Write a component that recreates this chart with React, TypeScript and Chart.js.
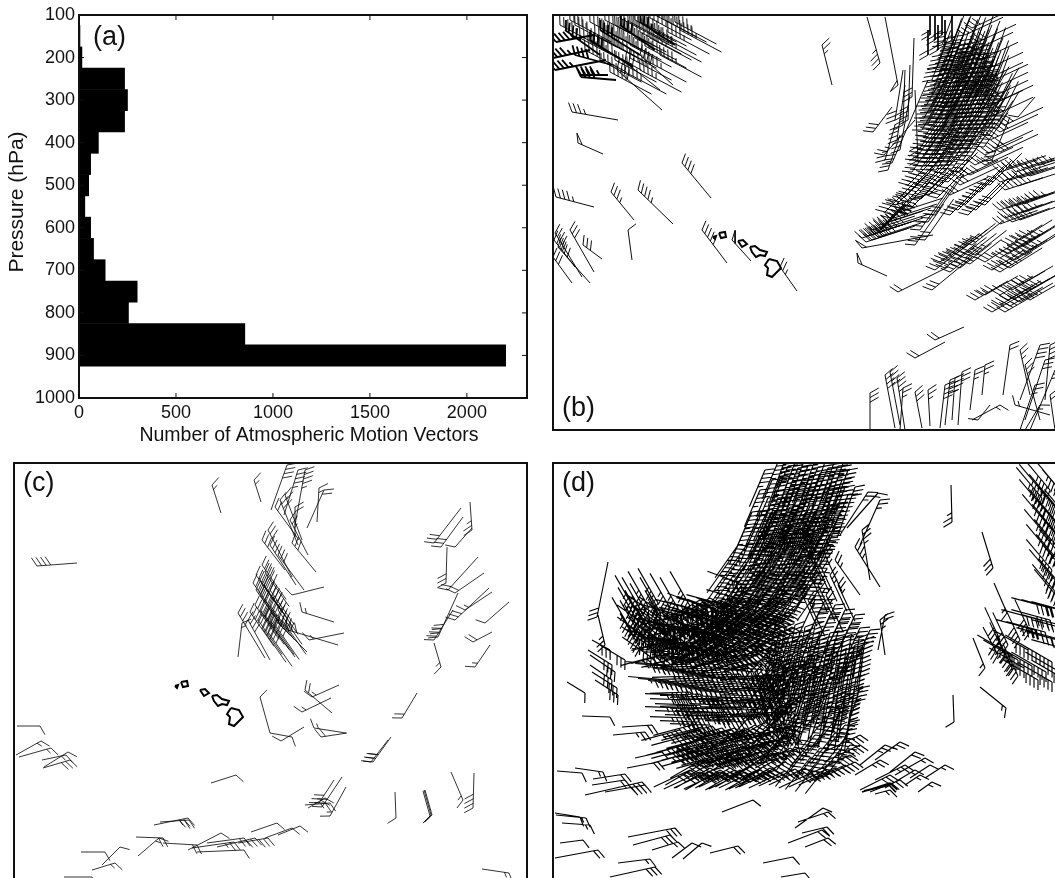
import React, { useEffect, useRef } from "react";
import { Chart, registerables } from "chart.js";
Chart.register(...registerables);

// ---------- panel (a) ----------
const pressureLevels = [150, 200, 250, 300, 350, 400, 450, 500, 550, 600, 650, 700, 750, 800, 850, 900];
const vectorCounts = [5, 15, 235, 250, 235, 100, 60, 50, 30, 60, 75, 135, 300, 255, 855, 2200];
const countTicks = [0, 500, 1000, 1500, 2000];
const axisTitleX = "Number of Atmospheric Motion Vectors";
const axisTitleY = "Pressure (hPa)";

// ---------- island outlines (map grid of panel b) ----------
const bigIsland = [769,259,777,261,781,268,777,272,772,277,767,275,768,268,765,265,769,259];
const maui = [750,247,755,246,760,250,767,252,765,256,760,255,756,257,752,252,750,247];
const oahu = [738,241,743,240,747,244,742,247,738,241];
const kauai = [719,233,725,232,726,237,721,238,719,233];
const niihau = [713,237,716,236,715,239,713,237];
const allIslands = [bigIsland, maui, oahu, kauai, niihau];

// ---------- barbs: head x, head y, tail x, tail y, speed ----------
const bSparse = [
[572,112,618,120,35],[578,143,603,154,50],[682,163,711,198,40],[611,192,634,220,35],[638,190,673,224,45],[628,230,632,260,10],
[702,230,727,263,45],[732,240,751,261,50],[780,267,797,291,25],[556,197,594,207,45],[570,230,594,272,30],[583,245,602,259,30],
[558,247,590,283,40],[555,233,582,277,40],[553,257,572,283,30],[554,240,575,267,40],[617,70,662,110,40],[640,55,673,85,40],
[625,62,660,90,30],[822,45,832,85,25],[880,63,867,17,35],[898,85,885,17,50],[873,132,892,107,30],[912,97,914,38,30],[918,160,915,90,40],
[892,163,928,80,30],[884,155,915,120,25],[858,263,887,276,50],[932,290,972,257,30],[898,292,948,267,20],[935,340,964,327,20],
[915,358,945,342,20],[862,248,933,235,50],[1018,117,1035,97,10],[992,160,1010,117,30],[870,393,870,430,30],[885,375,895,428,40],
[890,372,900,425,40],[897,378,905,430,35],[903,388,900,430,25],[915,392,922,428,30],[928,390,930,426,25],[945,385,940,428,40],
[950,380,945,425,40],[955,378,952,420,35],[962,372,958,425,30],[975,370,970,410,25],[985,365,982,395,25],[1010,345,1003,395,20],
[1040,345,1020,400,40],[1020,350,1030,395,25],[1045,360,1025,420,30],[1050,345,1045,400,40],[1025,365,1040,420,30],[1055,370,1030,430,30],
[1035,385,1020,430,25],[1050,395,1055,430,20],[1015,405,1050,415,15],[1040,405,1025,430,15],[978,420,990,405,10],[1000,405,972,420,15],
[903,125,905,70,40],[908,120,910,65,40],[897,140,905,85,40],[895,120,903,70,30],[900,150,910,95,35],[888,170,900,135,25],[885,160,895,125,25]
];
const bHeavy = [
[556,42,594,35,45],[553,58,590,50,45],[555,70,606,60,45],[581,75,608,75,45],[581,77,616,80,40],[575,55,612,65,40],[590,40,633,67,40],[565,30,600,55,45],[905,205,880,230,30],
[600,30,640,55,40],[620,25,655,50,40],[640,22,675,45,35]
];
const cSparse = [
[37,566,77,563,40],[212,485,221,513,15],[254,480,261,502,15],[287,465,271,510,40],[298,470,284,515,45],[305,470,295,525,45],
[324,490,307,528,20],[319,488,317,522,15],[295,507,295,537,20],[275,507,299,540,20],[268,530,292,577,30],[292,543,316,572,30],
[262,540,285,570,30],[292,595,324,587,10],[302,612,334,622,15],[309,640,344,633,15],[288,630,338,645,30],[278,623,307,652,40],
[265,617,295,657,40],[248,620,270,660,40],[238,613,265,658,35],[242,623,238,657,15],[434,543,461,508,30],[441,547,463,517,30],
[455,547,472,528,10],[472,530,470,502,25],[448,590,478,557,20],[455,593,484,573,20],[446,583,447,547,30],[465,610,492,592,15],
[455,620,489,588,30],[438,637,458,593,40],[434,640,453,610,40],[485,623,509,602,10],[473,642,492,632,20],[475,667,490,645,15],
[441,667,434,643,15],[312,697,339,685,15],[302,712,331,698,15],[305,690,332,713,20],[260,697,270,733,10],[281,741,304,727,10],
[292,737,270,733,10],[321,737,347,733,20],[314,728,346,733,15],[402,718,417,693,20],[373,762,391,737,30],[371,762,388,740,30],
[396,818,395,792,10],[431,815,424,790,10],[432,815,425,790,10],[430,816,423,791,10],[463,800,451,772,15],[473,808,474,773,40],
[322,807,342,777,30],[319,803,334,780,30],[330,816,346,787,15],[40,726,17,726,10],[41,741,16,755,15],[51,748,19,757,15],
[68,752,44,767,10],[66,755,42,760,15],[70,760,43,768,30],[236,775,211,783,10],[188,818,154,825,30],[189,820,160,822,25],
[163,838,136,837,20],[159,838,138,856,15],[197,845,163,843,20],[221,833,188,850,10],[244,850,197,852,10],[244,838,207,843,20],
[255,838,217,847,30],[268,838,238,843,30],[277,823,251,832,10],[292,828,265,838,10],[300,826,278,835,10],[234,842,192,848,25],
[105,852,81,852,10],[120,847,102,865,10],[115,863,92,870,15],[92,877,64,877,10],[509,873,482,869,15],[330,803,305,805,25],[325,798,308,808,20],
[280,500,298,545,25],[285,495,302,540,25],[290,520,308,555,25],[270,545,296,585,30],[278,555,304,590,30]
];
const dSparse = [
[597,617,608,562,30],[585,693,567,682,10],[610,717,582,716,10],[645,732,613,735,25],[652,725,622,727,20],[582,773,557,771,10],
[603,772,575,768,15],[625,774,593,779,20],[642,782,585,795,40],[645,785,605,792,40],[662,752,635,758,10],[658,762,627,768,20],
[753,800,722,812,10],[580,817,555,813,10],[586,818,556,815,15],[590,825,562,823,15],[583,840,560,843,10],[598,850,555,858,20],
[675,828,628,837,30],[670,835,633,845,30],[678,842,652,850,15],[692,843,672,858,10],[702,843,683,859,10],[738,846,710,853,20],
[793,857,763,863,10],[805,873,781,877,10],[650,859,618,863,15],[655,867,610,877,30],[823,808,795,828,10],[828,812,798,822,15],
[822,830,788,843,20],[828,838,805,847,20],[827,827,802,833,20],[952,522,951,485,25],[993,568,982,532,30],[1007,613,994,583,15],
[985,668,973,638,15],[998,655,983,627,30],[1006,708,980,687,15],[954,722,953,695,10],[878,493,847,528,15],[855,487,837,538,30],
[868,492,840,535,25],[880,500,860,545,25],[855,547,880,587,35],[862,530,870,580,35],[835,560,860,595,25],[880,620,885,655,25],
[885,615,878,650,20],[612,665,588,650,30],[615,672,590,655,30],[612,680,590,665,30],[617,688,592,672,30],[610,650,592,640,30],
[618,695,595,680,30],[625,660,600,645,30],[605,645,598,615,25],[625,780,592,785,20],
[880,760,855,775,25],[890,775,860,790,30],[900,780,870,792,30],[905,765,875,780,25],[915,770,885,788,15],[890,790,875,794,15],
[900,742,875,760,25],[885,745,860,765,25],[915,752,890,772,20],[925,758,895,775,15],[920,775,905,785,15],[930,765,910,778,10],[945,765,925,778,15],[932,782,918,792,15]
];
const dHeavy = [[890,783,862,792,10],[889,785,864,791,10]];

// ---------- dense flows: lists of barb heads ----------
const dColA = [785,460,795,462,805,458,815,460,825,462,835,460,845,458,790,475,800,472,810,476,820,473,830,475,840,472,848,470,780,478,785,490,795,488,805,491,815,487,825,490,835,488,845,487,775,492,782,468,792,482,802,481,812,483,822,481,832,482,842,480];
const dColB = [770,505,780,503,790,507,800,503,810,506,820,503,830,506,838,503,765,520,775,518,785,522,795,519,805,522,815,518,825,521,835,519,760,535,770,533,780,537,790,534,800,537,810,533,820,536,830,534,775,511,785,513,795,512,805,513,815,511,825,512,770,527,780,528,790,527,800,529,810,527,820,528];
const dColC = [755,550,765,548,775,552,785,549,795,552,805,548,815,551,825,549,750,565,760,563,770,567,780,564,790,567,800,563,810,566,820,564,745,580,755,578,765,582,775,579,785,582,795,578,805,581,815,579,760,556,770,558,780,557,790,559,800,557,810,558,755,572,765,573,775,572,785,574,795,572,805,573];
const dColD = [765,470,772,480,778,462,788,466,798,468,808,466,818,467,828,468,838,466,760,490,768,498,778,498,788,497,798,497,808,498,818,497,828,497,838,496,848,495,752,512,760,512,770,514,780,516,790,514,800,516,810,514,820,514,830,514,840,512,745,528,755,528,765,527,775,530,785,530,795,530,805,530,815,530,825,528,835,528];
const dColE = [738,545,748,543,758,543,768,543,778,544,788,543,798,544,808,543,818,543,828,542,730,560,740,558,750,558,760,572,770,574,780,572,790,574,800,572,810,573,820,572,725,575,735,573,745,573,720,590,730,588,740,587,750,587,760,588,770,588,780,587,790,587,800,587,810,587,820,588];
const dTurnA = [735,595,745,592,755,596,765,593,775,596,785,592,795,595,725,607,735,605,745,609,755,606,765,609,775,605,785,608,795,606,715,620,725,618,735,622,745,619,755,622,765,618,775,621,785,619,705,633,715,631,725,635,735,632,745,635,755,631,765,634,775,632,740,600,750,601,760,600,770,601,780,600,730,613,740,613,750,614,760,613,770,614,780,613];
const dTurnB = [690,612,700,610,680,622,690,625,700,623,710,640,670,640,680,638,690,642,700,640,720,645,730,648,740,648,750,647,760,645,770,648,660,655,670,653,680,657,690,654,700,657,710,653,720,660,730,658,740,662,750,659,760,662,770,658,735,655,745,654,755,654,765,653,725,652,715,648];
const dTurnC = [700,600,710,598,720,600,730,600,695,612,708,615,718,615,730,615,742,615,752,615,762,615,772,615,782,615,790,615,688,630,698,627,712,627,722,628,732,628,742,628,752,628,762,628,772,628,782,627,792,627,700,640,712,642,722,642,732,642,742,641,752,640,762,640,772,640,782,640];
const dBowlA = [680,640,690,643,700,646,710,650,672,652,682,655,692,658,702,660,712,662,722,665,665,665,675,667,685,670,695,672,705,674,715,676,725,678,735,680,668,680,678,682,688,684,698,686,708,688,718,690,728,692,738,694,745,670,755,672,765,670,750,685,760,684,770,682];
const dBowlLeft = [665,628,675,632,685,636,660,640,670,643,680,646,690,650,655,650,665,654,655,660,650,640,660,618,672,620,682,625,692,630,650,628,668,636,678,640,660,648,672,650];
const dBowlFar = [645,625,652,630,638,622,650,618,660,612,670,608,645,640,655,640,640,635,632,632,665,625,680,612,690,606,642,612,635,610,648,606,658,603,640,648];
const dBowlTop = [705,607,715,610,725,613,700,618,710,621,720,624,730,627,695,628,705,632,715,635,725,638,735,612,745,585,735,625];
const dLowA = [685,695,690,700,695,705,685,708,695,712,705,716,690,718,700,722,710,725,720,700,730,705,740,708,715,712,725,716,735,720,745,722,755,710,765,708,750,698,760,696];
const dLowB = [700,730,710,733,720,735,730,738,740,740,750,742,695,742,705,745,715,747,725,749,735,751,745,753,755,755,690,753,700,756,715,758,690,735,680,730,685,745,735,728,745,730];
const dLowC = [700,765,710,768,720,770,730,768,740,770,750,767,760,770,770,768,725,755,735,757,765,757,775,760,785,762,780,745,770,742,760,738,790,748,745,728,755,725,765,722,775,725,705,758];
const dBotR = [800,740,810,745,820,748,830,745,840,750,800,755,810,758,820,760,830,762,815,735,825,730,835,733,845,738,790,730,785,720,795,715,805,720,815,715,825,718,835,720,845,725,850,745];
const dMid = [780,640,790,642,800,640,810,642,820,640,828,642,775,655,785,657,795,655,805,657,815,655,825,657,775,670,785,672,795,670,805,672,815,670,825,672,780,685,790,687,800,685,810,687,820,685,775,625,785,627,795,625,805,627,815,625,830,690,815,700,805,702,825,705];
const dMidB = [765,680,772,690,778,700,785,705,760,695,770,705,765,665,755,672,775,712,790,715,780,660,768,650];
const dFillA = [690,664,700,666,710,668,720,670,730,672,740,674,750,676,760,678,770,676,780,675,692,676,702,678,712,680,722,682,732,684,742,686,752,688,762,690,772,688,782,686,690,692,700,694,710,696,720,698,730,698,740,700,752,700,762,702,772,700,782,698,700,705,710,707,720,708,730,712,740,714,750,716,760,716,770,714,780,712,790,708];
const dFillB = [692,725,702,727,712,726,722,728,732,730,742,733,752,734,762,732,772,732,782,730,792,726,690,748,700,750,710,752,720,755,730,756,740,758,750,760,760,752,770,750,780,752,790,755,800,748,705,738,715,740,725,742,735,744,745,746,755,747,765,745,775,740,785,738,795,736];
const dFillC = [780,632,790,634,800,633,810,635,820,632,830,633,838,632,775,648,785,649,795,648,805,649,815,648,825,649,835,648,775,663,785,664,795,662,805,664,815,663,825,664,835,660,778,678,788,679,798,678,808,679,818,678,828,680,785,695,795,695,805,695,815,693,825,695,835,695,845,695,835,672,845,660,855,645,800,710,810,708,820,710,830,710,840,708,850,722,860,688];
const dFillD = [672,628,682,630,692,632,702,634,712,636,722,638,732,640,680,615,690,618,700,618,710,620,720,622,730,622,740,625,695,610,705,612,715,608,725,605,735,608,745,600,665,640,675,645,685,648,695,648,705,650,715,652,725,655];
const dFillE = [770,650,778,660,772,675,780,690,790,700,770,690,780,705,795,722,775,720,760,705,765,735,785,735,760,688,790,665,800,672,805,690,812,655,820,665];
const dFillF = [690,770,700,772,710,771,720,772,735,770,745,772,755,771,765,772,775,770,785,771,795,769,805,768,815,771,825,770,835,768,845,765,855,762,850,755,860,745,860,735];
const dWing = [835,640,843,638,851,636,859,638,865,640,838,652,846,650,854,652,862,650,838,665,846,663,854,665,862,663,840,678,848,676,856,678,838,690,846,688,854,690,836,702,844,700,852,702,840,712,850,712];
const dWingTop = [820,610,830,615,840,620,850,625,860,628,825,600,835,605,815,600,845,610,855,615,870,630];
const dBranch = [805,545,812,555,820,565,810,575,818,585,826,595,800,590,808,600,830,575,838,585,825,555];
const dEdgeA = [1045,495,1055,505,1062,515,1045,510,1055,520,1062,530,1048,525,1058,535,1065,545,1050,540,1060,550,1065,560,1052,555,1062,565,1068,575,1055,580,1065,590,1060,600,1050,490,1060,490,1068,500,1070,520,1042,498,1052,570,1058,595];
const dEdgeB = [1028,650,1040,655,1052,662,1018,660,1032,666,1046,672,1060,672,1012,655,1024,668,1038,680,1052,682,1066,680];
const dEdgeC = [1050,620,1060,625,1070,630,1055,638,1065,642,1070,650,1045,632,1040,620,1060,610,1050,608,1070,612,1035,630];
const dEdgeD = [1005,655,1012,668,1018,676,1000,640,1008,645,1020,640,1030,632];

const bMassA = [950,50,958,48,966,52,945,62,953,60,961,64,969,60,977,62,985,58,940,75,948,73,956,77,964,73,972,76,980,72,988,75,938,88,946,86,954,90,962,86,970,89,978,85,986,88,994,84,950,68,960,70,970,68,944,82,958,82,968,82,950,95,960,94,970,95,980,94];
const bMassB = [935,100,943,98,951,102,959,98,967,101,975,97,983,100,930,112,938,110,946,114,954,110,962,113,970,109,978,112,986,108,994,111,928,124,936,122,944,126,952,122,960,125,968,121,976,124,984,120,992,123,1000,119,940,106,950,107,960,106,970,105,940,118,950,118,960,118,970,117,980,116];
const bMassC = [925,136,933,134,941,138,949,134,957,137,965,133,973,136,981,132,989,135,920,148,928,146,936,150,944,146,952,149,960,145,968,148,976,144,984,147,915,160,923,158,931,162,939,158,947,161,955,157,963,160,971,156,912,172,920,170,928,174,936,170,944,173,952,169,960,172,930,142,940,143,950,142,960,140,970,141,925,154,935,155,945,154,955,152,965,153,925,166,935,166,945,166];
const bMassD = [908,185,916,183,924,187,932,183,940,186,948,182,905,197,913,195,921,199,929,195,937,198,896,205,885,212,890,218,900,212,912,207];
const bFillA = [942,45,948,56,956,55,964,57,972,55,980,52,937,68,946,68,955,69,966,66,975,67,984,66,992,65,932,80,942,79,952,80,965,79,975,80,985,80,995,78,932,94,942,93,955,94,965,93,975,92,985,94,995,93];
const bFillB = [926,106,934,105,945,106,955,105,965,105,978,104,988,103,998,104,924,118,934,117,945,119,955,116,965,117,975,116,990,117,922,130,932,129,941,130,950,128,958,129,968,128,978,129,988,128,998,128];
const bFan = [975,50,980,60,985,70,978,42,965,35,972,28,990,82,990,98,995,103,985,108,995,115,990,90,985,80,990,140,995,148,1000,152,985,155,975,165,985,165,970,175,960,185,950,195,960,178,1000,132,1005,125];
const bTop = [938,50,935,40,945,45,930,35,942,35,952,40,928,55];
const bLeftFlow = [575,25,590,22,605,20,620,18,635,20,650,18,665,20,580,38,595,35,610,33,625,30,640,32,655,33,585,50,600,48,615,46,630,45,645,46,660,40,600,60,615,60,630,58,645,60,660,55,625,72,610,72,640,70,570,20,560,25,600,28,615,25,630,22,645,24,590,42,605,40,620,38,635,38,650,38,668,32,675,22,680,30,655,15];
const bRightA = [1000,172,1008,168,1016,172,1024,168,1032,170,1040,165,1000,182,1010,180,1020,178,1030,176,1005,190,1018,186];
const bRightB = [1000,210,1008,208,1016,206,1024,204,1032,200,1005,218,1015,215,1025,212,1000,224,1012,222,1020,220];
const bRightC = [1000,258,1008,254,1016,250,1024,246,1032,240,1005,265,1015,260,1025,255,1020,240,1010,245,992,270,1000,272,1010,268,985,262,1030,250];
const bRightD = [940,262,948,258,956,254,964,248,972,245,935,270,945,268,955,262,965,258,975,255,950,272,960,268,970,264];
const bRightE = [1000,305,1008,300,1016,298,1024,294,1030,290,1010,306,1020,302,1000,295,1012,290,1020,285,985,295,975,300,992,312,1005,312,1030,300];
const bArc = [862,238,868,236,874,234,880,232,886,228,866,242,872,240,878,237,888,222,894,218,900,212,872,230,880,225,895,205];
const bSlantA = [965,205,972,198,980,192,990,185,968,215,976,210,985,205,950,215,958,210];
const bSlantB = [935,215,928,222,920,230,925,240,915,245];
const cDense = [256,575,260,580,264,585,256,590,260,595,265,600,270,605,255,605,260,610,265,615,270,620,275,625,258,620,262,628,268,632,274,600,278,610,282,620,250,612,262,565,265,572,270,590,253,583];

// ---------- speed and direction of each flow: list, bearing from head to tail, speed, staff ----------
const bFlows: any[] = [[bMassA,22,40,40],[bMassB,26,40,42],[bMassC,35,40,42],[bMassD,45,40,42],[bFillA,20,40,40],[bFillB,30,40,42],[bFan,65,30,42],[bTop,0,20,25],[bLeftFlow,118,45,47],
  [bRightA,72,35,40],[bRightB,70,35,40],[bRightC,58,35,38],[bRightD,52,35,40],[bRightE,60,35,38],[bArc,72,45,45],[bSlantA,45,30,45],[bSlantB,35,30,50]];
const cFlows: any[] = [[cDense,145,40,42]];
const dFlows: any[] = [[dColA,200,45,40],[dColB,205,45,40],[dColC,212,45,40],[dColD,203,45,40],[dColE,215,45,40],[dTurnA,230,45,40],[dTurnB,255,45,40],[dTurnC,240,45,40],[dBowlA,275,45,40],[dBowlLeft,305,45,40],
  [dBowlFar,330,45,40],[dBowlTop,290,40,40],[dLowA,272,45,40],[dLowB,255,45,40],[dLowC,240,45,40],[dBotR,218,45,40],[dMid,190,45,40],[dMidB,165,35,42],[dFillA,268,45,40],[dFillB,255,45,40],[dFillC,198,45,40],[dFillD,285,45,40],[dFillE,222,45,40],[dFillF,245,40,40],
  [dWing,188,45,40],[dWingTop,205,40,38],[dBranch,155,25,40],[dEdgeA,320,45,40],[dEdgeB,300,40,40],[dEdgeC,285,40,40],[dEdgeD,335,40,36]];

function addBarb(out: any[], hx: number, hy: number, tx: number, ty: number, speed: number) {
  const len = Math.hypot(hx - tx, hy - ty) || 1;
  const ux = (hx - tx) / len, uy = (hy - ty) / len;
  const nx = -uy, ny = ux;
  const fx = 0.5 * ux + 0.866 * nx, fy = 0.5 * uy + 0.866 * ny;
  const feather = 10, gap = 4.6;
  out.push({ x: tx, y: ty }, { x: hx, y: hy }, { x: null, y: null });
  let s = speed, pos = 0;
  while (s >= 50) {
    out.push({ x: hx - ux * pos, y: hy - uy * pos }, { x: hx - ux * pos + fx * feather, y: hy - uy * pos + fy * feather }, { x: hx - ux * (pos + gap), y: hy - uy * (pos + gap) }, { x: null, y: null });
    s -= 50; pos += gap + 1;
  }
  while (s >= 10) {
    out.push({ x: hx - ux * pos, y: hy - uy * pos }, { x: hx - ux * pos + fx * feather, y: hy - uy * pos + fy * feather }, { x: null, y: null });
    s -= 10; pos += gap;
  }
  if (s >= 5) {
    out.push({ x: hx - ux * pos, y: hy - uy * pos }, { x: hx - ux * pos + fx * feather * 0.55, y: hy - uy * pos + fy * feather * 0.55 }, { x: null, y: null });
  }
}

function barbSegments(sparse: number[][], flows: any[]) {
  const out: any[] = [];
  sparse.forEach((b) => addBarb(out, b[0], b[1], b[2], b[3], b[4]));
  flows.forEach(([heads, bearing, speed, staff]) => {
    const r = (bearing * Math.PI) / 180;
    for (let i = 0; i + 1 < heads.length; i += 2) {
      addBarb(out, heads[i], heads[i + 1], heads[i] + Math.sin(r) * staff, heads[i + 1] - Math.cos(r) * staff, speed);
    }
  });
  return out;
}

function coast(list: number[][], dx: number, dy: number) {
  const out: any[] = [];
  list.forEach((p) => {
    for (let i = 0; i + 1 < p.length; i += 2) out.push({ x: p[i] + dx, y: p[i + 1] + dy });
    out.push({ x: null, y: null });
  });
  return out;
}

const FONT = "'Liberation Sans', Arial, sans-serif";

function framePlugin(letter: string, lx: number, ly: number, extras?: (c: any) => void) {
  return {
    id: "frame",
    afterDraw(chart: any) {
      const { ctx, chartArea: a } = chart;
      ctx.save();
      ctx.strokeStyle = "#111";
      ctx.lineWidth = 2;
      ctx.strokeRect(a.left, a.top, a.right - a.left, a.bottom - a.top);
      ctx.fillStyle = "#111";
      ctx.font = `27px ${FONT}`;
      ctx.textAlign = "left";
      ctx.textBaseline = "middle";
      ctx.fillText(letter, lx, ly);
      if (extras) extras(chart);
      ctx.restore();
    },
  };
}

function mapConfig(sparse: number[][], flows: any[], heavy: number[][], list: number[][], dx: number, dy: number, bounds: number[], letter: string, coastWidth: number, barbWidth: number): any {
  const heavySeg: any[] = [];
  heavy.forEach((b) => addBarb(heavySeg, b[0], b[1], b[2], b[3], b[4]));
  const line = { showLine: true, pointRadius: 0, pointHoverRadius: 0, spanGaps: false, tension: 0, borderColor: "#000", backgroundColor: "#000" };
  return {
    type: "scatter",
    data: {
      datasets: [
        { ...line, label: "barbs", data: barbSegments(sparse, flows), borderWidth: barbWidth },
        { ...line, label: "heavy barbs", data: heavySeg, borderWidth: 1.8 },
        { ...line, label: "coast", data: coast(list, dx, dy), borderWidth: coastWidth },
      ],
    },
    options: {
      animation: false, responsive: false, events: [],
      layout: { padding: 2 },
      plugins: { legend: { display: false }, tooltip: { enabled: false }, title: { display: false } },
      scales: {
        x: { type: "linear", display: false, min: bounds[0], max: bounds[1] },
        y: { type: "linear", display: false, reverse: true, min: bounds[2], max: bounds[3] },
      },
    },
    plugins: [framePlugin(letter, 11, letter === "(b)" ? 396 : 23)],
  };
}

function histConfig(): any {
  return {
    type: "bar",
    data: {
      datasets: [{
        label: "AMVs",
        data: pressureLevels.map((p, i) => ({ x: vectorCounts[i], y: p })),
        backgroundColor: "#000", borderWidth: 0, barPercentage: 1, categoryPercentage: 1,
      }],
    },
    options: {
      animation: false, responsive: false, events: [], indexAxis: "y",
      layout: { padding: { top: 15, right: 3, left: 0, bottom: 0 } },
      plugins: { legend: { display: false }, tooltip: { enabled: false } },
      scales: {
        x: {
          type: "linear", min: 0, max: 2310,
          afterFit: (s: any) => { s.height = 47; },
          afterBuildTicks: (s: any) => { s.ticks = countTicks.map((value) => ({ value })); },
          grid: { display: false, drawTicks: false }, border: { display: false },
          ticks: { color: "#111", padding: 4, maxRotation: 0, autoSkip: false, callback: (v: any) => String(v), font: { family: FONT, size: 18 } },
        },
        y: {
          type: "linear", reverse: true, min: 100, max: 1000, offset: false,
          afterFit: (s: any) => { s.width = 79; },
          grid: { display: false, drawTicks: false, offset: false }, border: { display: false },
          ticks: { stepSize: 100, color: "#111", padding: 4, autoSkip: false, callback: (v: any) => String(v), font: { family: FONT, size: 18 } },
        },
      },
    },
    plugins: [framePlugin("(a)", 93, 38, (chart: any) => {
      const { ctx, chartArea: a, scales } = chart;
      ctx.lineWidth = 1;
      ctx.beginPath();
      scales.x.ticks.forEach((t: any) => {
        const p = scales.x.getPixelForValue(t.value);
        ctx.moveTo(p, a.top); ctx.lineTo(p, a.top + 5);
        ctx.moveTo(p, a.bottom); ctx.lineTo(p, a.bottom - 5);
      });
      scales.y.ticks.forEach((t: any) => {
        const p = scales.y.getPixelForValue(t.value);
        ctx.moveTo(a.left, p); ctx.lineTo(a.left + 5, p);
        ctx.moveTo(a.right, p); ctx.lineTo(a.right - 5, p);
      });
      ctx.stroke();
      ctx.font = `19.5px ${FONT}`;
      ctx.textAlign = "center";
      ctx.textBaseline = "middle";
      ctx.fillText(axisTitleX, 309, 436);
      ctx.font = `21px ${FONT}`;
      ctx.translate(17, 202);
      ctx.rotate(-Math.PI / 2);
      ctx.fillText(axisTitleY, 0, 0);
    })],
  };
}

function Panel({ left, top, width, height, config }: { left: number; top: number; width: number; height: number; config: () => any }) {
  const ref = useRef<HTMLCanvasElement | null>(null);
  useEffect(() => {
    const chart = new Chart(ref.current as HTMLCanvasElement, config());
    return () => chart.destroy();
  }, []);
  return <canvas ref={ref} width={width} height={height} style={{ position: "absolute", left, top, width, height }} />;
}

export default function App() {
  return (
    <div style={{ position: "fixed", left: 0, top: 0, width: 1055, height: 878, overflow: "hidden", background: "#fff" }}>
      <Panel left={0} top={0} width={530} height={445} config={histConfig} />
      <Panel left={551} top={13} width={525} height={419} config={() => mapConfig(bSparse, bFlows, bHeavy, allIslands, 0, 0, [553, 1074, 15, 430], "(b)", 2, 0.95)} />
      <Panel left={12} top={461} width={517} height={440} config={() => mapConfig(cSparse, cFlows, [], allIslands, -538, 449, [14, 527, 463, 899], "(c)", 2, 0.8)} />
      <Panel left={551} top={461} width={525} height={440} config={() => mapConfig(dSparse, dFlows, dHeavy, [bigIsland], 0, 448, [553, 1074, 463, 899], "(d)", 1.8, 1.15)} />
    </div>
  );
}
